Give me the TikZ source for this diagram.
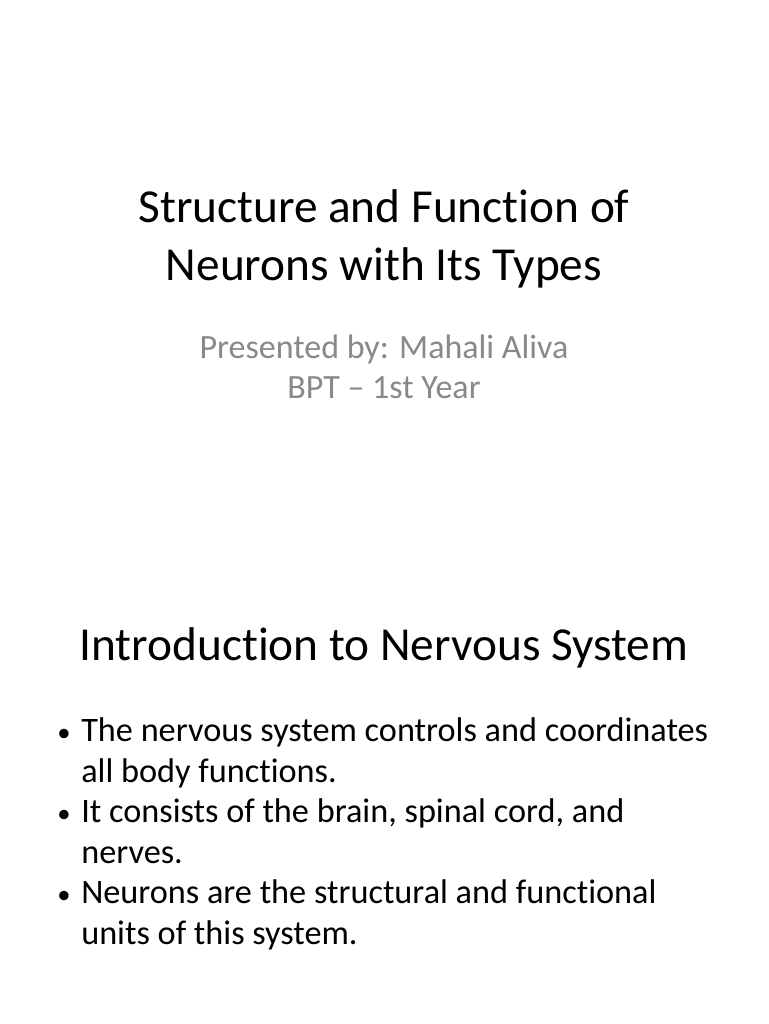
\documentclass[tikz,border=0pt]{standalone}
\usepackage{fontspec}
\setmainfont[RawFeature=-liga]{Carlito}
\definecolor{sub}{RGB}{137,137,137}
\begin{document}
\begin{tikzpicture}[x=0.75pt,y=-0.75pt,
  title/.style={anchor=base,font=\fontsize{35.5}{40}\selectfont,inner sep=0},
  subt/.style={anchor=base,font=\fontsize{25.5}{30}\selectfont,text=sub,inner sep=0},
  bul/.style={anchor=base west,font=\fontsize{25.7}{30}\selectfont,inner sep=0},
  dot/.style={anchor=base west,font=\fontsize{20}{26}\selectfont,inner sep=0}]
\useasboundingbox (0,0) rectangle (768,1024);
\fill[white] (0,0) rectangle (768,1024);
\node[title] (t1) at (384,222) {Structure and Function of};
\node[title] (t2) at (384,280) {Neurons with Its Types};
\node[subt] (s1) at (384,358) {Presented by: Mahali Aliva};
\node[subt] (s2) at (384,398) {BPT – 1st Year};
\node[title] (h) at (384,660) {Introduction to Nervous System};
\foreach \y/\t [count=\i] in {741/The nervous system controls and coordinates,782/all body functions.,822/{It consists of the brain, spinal cord, and},863/nerves.,903/Neurons are the structural and functional,944/units of this system.}
  \node[bul] (b\i) at (81,\y) {\t};
\foreach \y [count=\i] in {741,822,903}
  \node[dot] (d\i) at (57,\y) {•};
\end{tikzpicture}
\end{document}
